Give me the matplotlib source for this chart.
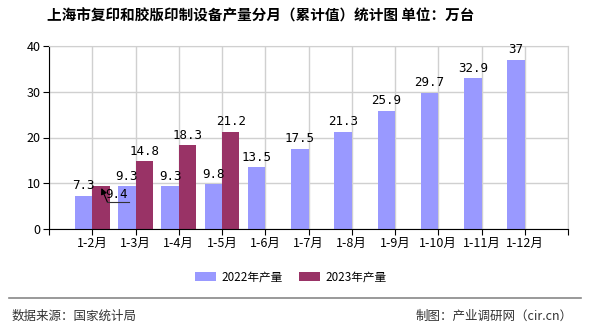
import numpy as np
import matplotlib.pyplot as plt

plt.rcParams['font.family'] = ['Noto Sans CJK SC', 'DejaVu Sans']

# data
months = ['1-2月', '1-3月', '1-4月', '1-5月', '1-6月', '1-7月', '1-8月',
          '1-9月', '1-10月', '1-11月', '1-12月']
prod_2022 = [7.3, 9.3, 9.3, 9.8, 13.5, 17.5, 21.3, 25.9, 29.7, 32.9, 37]
prod_2023 = [9.4, 14.8, 18.3, 21.2]

c22 = '#9999ff'
c23 = '#993366'

fig = plt.figure(figsize=(5.9, 3.3), dpi=100)
ax = fig.add_axes([49 / 590, 1 - 229 / 330, 519 / 590, 183 / 330])

x = np.arange(len(months))
w = 0.4
ax.bar(x - w / 2, prod_2022, width=w, color=c22, label='2022年产量', zorder=2)
x23 = np.arange(len(prod_2023))
ax.bar(x23 + w / 2, prod_2023, width=w, color=c23, label='2023年产量', zorder=2)

mono = 'DejaVu Sans Mono'
for xi, v in zip(x, prod_2022):
    ax.text(xi - w / 2, v + 0.8, f'{v:g}', ha='center', va='bottom', fontsize=9, family=mono)
for xi, v in zip(x23, prod_2023):
    if xi == 0:
        # label pushed below the bar top, with a leader line
        ax.annotate('', xy=(xi + 0.21, v - 0.45), xytext=(xi + 0.35, 5.9),
                    arrowprops=dict(arrowstyle='-|>', color='black', lw=0.8,
                                    mutation_scale=9, shrinkA=0, shrinkB=0), zorder=4)
        ax.plot([xi + 0.35, xi + 0.86], [5.9, 5.9], color='#333333', lw=0.8, zorder=4)
        ax.text(xi + 0.56, 7.65, f'{v:g}', ha='center', va='center', fontsize=9, family=mono,
                zorder=4)
        continue
    ax.text(xi + w / 2, v + 0.8, f'{v:g}', ha='center', va='bottom', fontsize=9, family=mono)

ax.set_xlim(-1, 11)
ax.set_ylim(0, 40)
ax.set_yticks([0, 10, 20, 30, 40])
ax.set_xticks(np.arange(-1, 12))
ax.set_xticklabels([''] + months + [''], fontsize=9)
ax.tick_params(axis='x', length=4, color='black', pad=2)
ax.tick_params(axis='y', length=4, labelsize=9, pad=2)
ax.grid(True, color='#d0d0d0', lw=1, zorder=0)
for s in ['top', 'right']:
    ax.spines[s].set_color('#d0d0d0')
ax.spines['left'].set_color('black')
ax.spines['bottom'].set_color('black')

fig.suptitle('上海市复印和胶版印制设备产量分月（累计值）统计图 单位：万台',
             x=261 / 590, y=1 - 16 / 330, va='center', fontsize=10.5, fontweight='bold')

fig.legend(loc='center', bbox_to_anchor=(291 / 590, 1 - 277 / 330), ncol=2, frameon=False,
           fontsize=8.4, handlelength=1.8, handleheight=0.75, columnspacing=1.4,
           handletextpad=0.45)

fig.add_artist(plt.Line2D([9 / 590, 581 / 590], [1 - 298 / 330] * 2, color='#888888', lw=1.2))
fig.text(12 / 590, 1 - 316 / 330, '数据来源：国家统计局', fontsize=9, va='center', color='#333333')
fig.text(573 / 590, 1 - 316 / 330, '制图：产业调研网（cir.cn）', fontsize=9, va='center',
         ha='right', color='#333333')

fig.savefig('out.png', dpi=100)
